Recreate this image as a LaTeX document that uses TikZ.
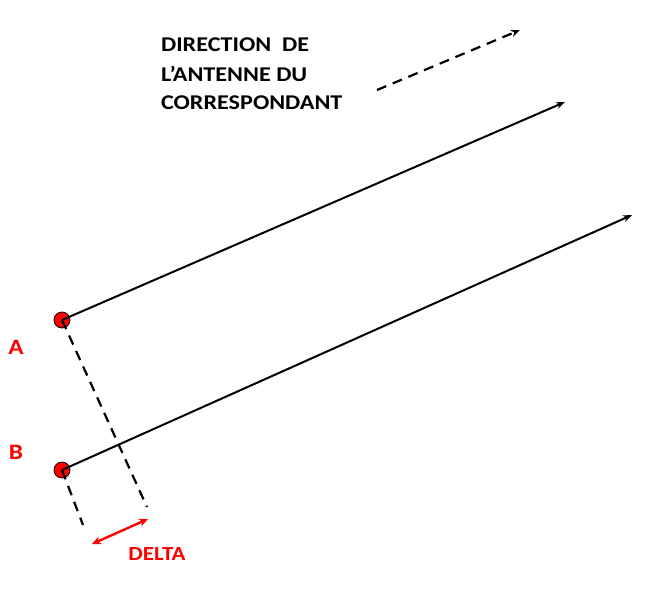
\documentclass[tikz,border=0pt]{standalone}
\usepackage{fontspec}
\setmainfont{Carlito}
\usetikzlibrary{arrows.meta}
\begin{document}
\begin{tikzpicture}[x=1pt,y=-1pt,
  ray/.style={line width=2pt,-{Stealth[length=9pt,width=7pt]}},
  dsh/.style={line width=2.2pt,dash pattern=on 10pt off 7pt},
  dot/.style={circle,fill=red,draw=black,line width=0.8pt,minimum size=16pt,inner sep=0pt},
  lbl/.style={font=\bfseries\fontsize{22}{24}\selectfont,text=red,xscale=1.15},
  txt/.style={font=\bfseries\fontsize{21}{22}\selectfont,anchor=west,xscale=1.15}]
\useasboundingbox (0,0) rectangle (650,600);
\node[dot] (A) at (62,320) {};
\node[dot] (B) at (62,470) {};
\coordinate (Ac) at (62,320);
\coordinate (Bc) at (62,470);
\coordinate (Ae) at (565,102);
\coordinate (Be) at (632,215);
\draw[ray] (Ac) -- (Ae);
\draw[ray] (Bc) -- (Be);
\coordinate (Ad) at (147,507);
\coordinate (Bd) at (83,525);
\draw[dsh] (Ac) -- (Ad);
\draw[dsh] (Bc) -- (Bd);
\coordinate (d1) at (377,90);
\coordinate (d2) at (520,30);
\draw[dsh,-{Stealth[length=9pt,width=7pt]}] (d1) -- (d2);
\coordinate (r1) at (92,544);
\coordinate (r2) at (148,519);
\draw[red,line width=2.4pt,{Stealth[length=9pt,width=8pt]}-{Stealth[length=9pt,width=8pt]}] (r1) -- (r2);
\node[lbl] (la) at (16,347) {A};
\node[lbl] (lb) at (16,452) {B};
\node[lbl,font=\bfseries\fontsize{20}{22}\selectfont] (ld) at (157,554) {DELTA};
\node[txt] (t1) at (157,45) {DIRECTION\ \ DE};
\node[txt] (t2) at (157,74) {L’ANTENNE DU};
\node[txt] (t3) at (157,103) {CORRESPONDANT};
\end{tikzpicture}
\end{document}
